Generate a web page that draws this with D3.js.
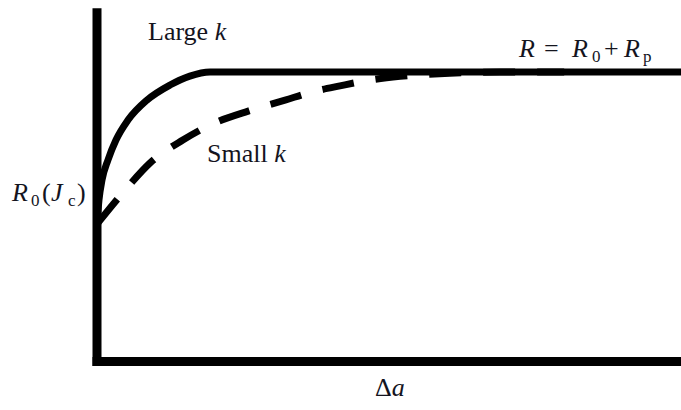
<!DOCTYPE html>
<html>
<head>
<meta charset="utf-8">
<script src="https://cdn.jsdelivr.net/npm/d3@7/dist/d3.min.js"></script>
<style>
  html, body { margin: 0; padding: 0; background: #fff; }
  svg { display: block; }
</style>
</head>
<body>
<svg id="chart" width="681" height="410"></svg>
<script>
// Crack extension Δa (arbitrary units) against resistance R, normalised so R0 + Rp = 1
const largeKDa = [0, 0.34, 0.86, 1.88, 3.25, 5.31, 8.56, 12.5, 15.9, 19.35, 100];
const largeKR  = [0.475, 0.558, 0.627, 0.696, 0.765, 0.834, 0.903, 0.955, 0.986, 1.0, 1.0];

const smallKDa = [0, 4.8, 9.1, 14.7, 19.7, 25.9, 32.2, 36.8, 41.6, 46.7, 51.9, 60.4, 69.0, 80.0];
const smallKR  = [0.475, 0.592, 0.686, 0.765, 0.82, 0.865, 0.903, 0.931, 0.952, 0.972, 0.985, 0.996, 1.0, 1.0];

const daMax = 100;     // right end of the Δa axis
const rMax = 1.22;     // top of the R axis

const serif = "Liberation Serif";

const svg = d3.select("#chart");

const x = d3.scaleLinear().domain([0, daMax]).range([97, 681]);
const y = d3.scaleLinear().domain([0, 1]).range([361.5, 72]);

const toPoints = (xs, ys) => xs.map((d, i) => [d, ys[i]]);

const line = d3.line()
  .x(d => x(d[0]))
  .y(d => y(d[1]))
  .curve(d3.curveMonotoneX);

// Small k: dashed, rises slowly toward the plateau
svg.append("path")
  .datum(toPoints(smallKDa, smallKR))
  .attr("d", line)
  .attr("fill", "none")
  .attr("stroke", "#000")
  .attr("stroke-width", 7)
  .attr("stroke-dasharray", "32,22");

// Large k: solid, reaches the plateau quickly
svg.append("path")
  .datum(toPoints(largeKDa, largeKR))
  .attr("d", line)
  .attr("fill", "none")
  .attr("stroke", "#000")
  .attr("stroke-width", 7);

// Axes: heavy lines, no ticks
const axisW = 9;
const xAxis = d3.axisBottom(x).tickValues([]).tickSizeOuter(0);
const yAxis = d3.axisLeft(d3.scaleLinear().domain([0, rMax]).range([y(0), y(rMax)]))
  .tickValues([]).tickSizeOuter(0);

svg.append("g")
  .attr("transform", `translate(0,${y(0)})`)
  .call(xAxis)
  .call(g => g.select(".domain")
    .attr("stroke", "#000").attr("stroke-width", axisW)
    .attr("d", `M${x(0) - axisW / 2},0H${x(daMax)}`));

svg.append("g")
  .attr("transform", `translate(${x(0)},0)`)
  .call(yAxis)
  .call(g => g.select(".domain")
    .attr("stroke", "#000").attr("stroke-width", axisW)
    .attr("d", `M0,${y(0) + axisW / 2}V${y(rMax)}`));

// Annotations
const fs = 26, sub = 17;
const label = (px, py) => svg.append("text")
  .attr("x", px).attr("y", py)
  .attr("font-family", serif)
  .attr("font-size", fs)
  .attr("fill", "#14141e");

// pieces: [text, x, italic, subscript]
const mathLabel = (py, pieces) => {
  const t = label(pieces[0][1], py);
  pieces.forEach(([s, px, it, sb]) => {
    t.append("tspan")
      .attr("x", px)
      .attr("y", sb ? py + 5 : py)
      .attr("font-size", sb ? sub : fs)
      .attr("font-style", it ? "italic" : "normal")
      .text(s);
  });
  return t;
};

const t1 = label(148, 40);
t1.append("tspan").text("Large ");
t1.append("tspan").attr("font-style", "italic").text("k");

const t2 = label(207, 162);
t2.append("tspan").text("Small ");
t2.append("tspan").attr("font-style", "italic").text("k");

mathLabel(201, [
  ["R", 12, true, false],
  ["0", 31, false, true],
  ["(", 42, false, false],
  ["J", 51, true, false],
  ["c", 68, false, true],
  [")", 77, false, false]
]);

mathLabel(57, [
  ["R", 519, true, false],
  ["=", 544, false, false],
  ["R", 572, true, false],
  ["0", 592, false, true],
  ["+", 604, false, false],
  ["R", 624, true, false],
  ["p", 643, false, true]
]);

const t5 = label(375, 396);
t5.append("tspan").text("Δ");
t5.append("tspan").attr("font-style", "italic").text("a");
</script>
</body>
</html>
